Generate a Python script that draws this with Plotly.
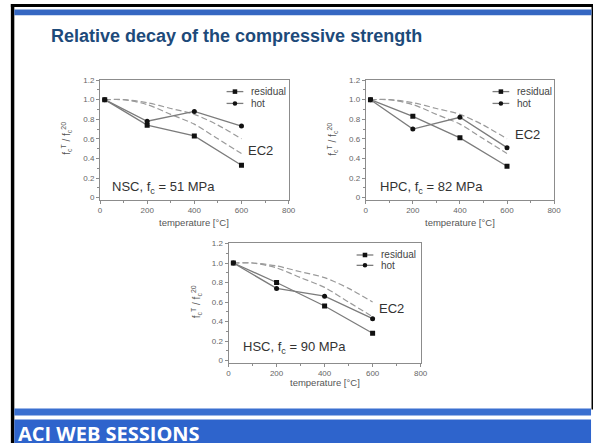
import plotly.graph_objects as go

W, H = 600, 446

# Measured relative compressive strength f_c^T / f_c^20
temperature = [20, 200, 400, 600]
nsc_residual = [1.0, 0.74, 0.63, 0.33]
nsc_hot = [1.0, 0.78, 0.88, 0.73]
hpc_residual = [1.0, 0.83, 0.61, 0.32]
hpc_hot = [1.0, 0.70, 0.82, 0.51]
hsc_residual = [1.0, 0.80, 0.56, 0.28]
hsc_hot = [1.0, 0.74, 0.66, 0.43]

# Eurocode 2 reduction curves (calcareous / siliceous aggregate)
ec2_temperature = [20, 100, 200, 300, 400, 500, 600]
ec2_calcareous = [1.0, 1.0, 0.97, 0.91, 0.85, 0.74, 0.60]
ec2_siliceous = [1.0, 1.0, 0.95, 0.85, 0.75, 0.60, 0.45]

x_ticks = [0, 200, 400, 600, 800]
y_ticks = [0, 0.2, 0.4, 0.6, 0.8, 1.0, 1.2]
y_tick_text = ["0", "0.2", "0.4", "0.6", "0.8", "1.0", "1.2"]

panel_labels = ["NSC, f<sub>c</sub> = 51 MPa", "HPC, f<sub>c</sub> = 82 MPa", "HSC, f<sub>c</sub> = 90 MPa"]
series_names = ["residual", "hot"]

slide_title = "Relative decay of the compressive strength"
banner_text = "ACI WEB SESSIONS"


def fx(px):
    return px / W


def fy(py):
    return 1 - py / H


Y_MIN, Y_MAX = -0.02, 1.2

# pixel frames of each panel: (x left, x right, y pixel of 1.2, y pixel of 0)
frames = [
    (99.5, 291.0, 77.3, 196.7),
    (369.3, 560.5, 77.3, 196.7),
    (230.0, 425.0, 243.3, 362.3),
]

panels = [
    (nsc_residual, nsc_hot),
    (hpc_residual, hpc_hot),
    (hsc_residual, hsc_hot),
]

LINE_GREY = "#7c7c7c"
AXIS_GREY = "#8c8c8c"
TEXT_GREY = "#444444"
FONT = "Arial, Liberation Sans, sans-serif"

fig = go.Figure()
layout = dict(
    width=W, height=H,
    margin=dict(l=0, r=0, t=0, b=0),
    paper_bgcolor="white",
    plot_bgcolor="rgba(0,0,0,0)",
    showlegend=False,
    font=dict(family=FONT),
)

for i, ((res, hot), (xl, xr, ytop, y0)) in enumerate(zip(panels, frames)):
    n = "" if i == 0 else str(i + 1)
    xa, ya = "x" + n, "y" + n
    per_unit = (y0 - ytop) / Y_MAX
    ybottom = y0 - Y_MIN * per_unit

    for ec2 in (ec2_calcareous, ec2_siliceous):
        fig.add_trace(go.Scatter(
            x=ec2_temperature, y=ec2, mode="lines",
            line=dict(color="#9a9a9a", width=1.2, dash="6px,3px", shape="spline", smoothing=0.8),
            xaxis=xa, yaxis=ya, hoverinfo="skip"))

    fig.add_trace(go.Scatter(
        x=temperature, y=res, mode="lines+markers", name=series_names[0],
        line=dict(color=LINE_GREY, width=1.3),
        marker=dict(symbol="square", size=5, color="#111111"),
        xaxis=xa, yaxis=ya))
    fig.add_trace(go.Scatter(
        x=temperature, y=hot, mode="lines+markers", name=series_names[1],
        line=dict(color=LINE_GREY, width=1.3),
        marker=dict(symbol="circle", size=5, color="#111111"),
        xaxis=xa, yaxis=ya))

    common = dict(
        showline=True, linecolor=AXIS_GREY, linewidth=1, mirror=True,
        ticks="outside", ticklen=3, tickwidth=1, tickcolor=AXIS_GREY,
        showgrid=False, zeroline=False, fixedrange=True,
        tickfont=dict(family=FONT, size=8, color="#666666"),
    )
    layout["xaxis" + n] = dict(
        common, domain=[fx(xl), fx(xr)], range=[0, 800], anchor=ya,
        tickmode="array", tickvals=x_ticks, ticktext=[str(v) for v in x_ticks],
        minor=dict(ticks="outside", ticklen=2, tickcolor=AXIS_GREY, tickmode="linear", tick0=0, dtick=100),
    )
    layout["yaxis" + n] = dict(
        common, domain=[fy(ybottom), fy(ytop)], range=[Y_MIN, Y_MAX], anchor=xa,
        tickmode="array", tickvals=y_ticks, ticktext=y_tick_text,
        minor=dict(ticks="outside", ticklen=2, tickcolor=AXIS_GREY, tickmode="linear", tick0=0, dtick=0.1),
    )

layout_shapes = []
annotations = []


def rect(x0, y0, x1, y1, color):
    layout_shapes.append(dict(type="rect", xref="paper", yref="paper",
                              x0=fx(x0), x1=fx(x1), y0=fy(y1), y1=fy(y0),
                              fillcolor=color, line=dict(width=0), layer="below"))


# slide frame and blue bands
rect(9, 0, 12.5, 446, "#000000")
rect(9, 0, 600, 3, "#000000")
rect(598.5, 0, 600, 412, "#000000")
rect(12.5, 5.5, 598.5, 11.5, "#3567c2")
rect(12.5, 411, 598, 418, "#3a6fd0")
rect(12.5, 422, 598, 446, "#2e64cc")

annotations.append(dict(text="<b>" + slide_title + "</b>", xref="paper", yref="paper",
                        x=fx(48), y=fy(33), xanchor="left", yanchor="middle", showarrow=False,
                        font=dict(family=FONT, size=18, color="#1d4a7a")))
annotations.append(dict(text="<b>" + banner_text + "</b>", xref="paper", yref="paper",
                        x=fx(14), y=fy(436), xanchor="left", yanchor="middle", showarrow=False,
                        font=dict(family="Open Sans, sans-serif", size=20, color="white")))

# per-panel text: legend, label, EC2 tag, axis titles (pixel positions)
legend_pos = [(228, 89, 12), (498, 89, 12), (360, 255, 10.5)]
label_pos = [(110, 186), (382, 186), (243, 349)]
ec2_pos = [(248, 149), (519, 133), (381, 309)]
ytitle_pos = [(66, 137), (336, 137), (197, 303)]
xtitle_pos = [(195, 222), (465, 222), (327.5, 385)]

for i in range(3):
    lx, ly, step = legend_pos[i]
    for k, (name, sym) in enumerate(zip(series_names, ["square", "circle"])):
        yy = ly + k * step
        layout_shapes.append(dict(type="line", xref="paper", yref="paper",
                                  x0=fx(lx), x1=fx(lx + 17), y0=fy(yy), y1=fy(yy),
                                  line=dict(color=LINE_GREY, width=1.3)))
        cx = lx + 8.5
        r = 2.3
        layout_shapes.append(dict(type="rect" if sym == "square" else "circle",
                                  xref="paper", yref="paper",
                                  x0=fx(cx - r), x1=fx(cx + r), y0=fy(yy + r), y1=fy(yy - r),
                                  fillcolor="#111111", line=dict(width=0)))
        annotations.append(dict(text=name, xref="paper", yref="paper",
                                x=fx(lx + 23), y=fy(yy), xanchor="left", yanchor="middle",
                                showarrow=False, font=dict(family=FONT, size=10, color=TEXT_GREY)))
    px_, py_ = label_pos[i]
    annotations.append(dict(text=panel_labels[i], xref="paper", yref="paper",
                            x=fx(px_), y=fy(py_), xanchor="left", yanchor="middle",
                            showarrow=False, font=dict(family=FONT, size=13, color="#333333")))
    ex, ey = ec2_pos[i]
    annotations.append(dict(text="EC2", xref="paper", yref="paper",
                            x=fx(ex), y=fy(ey), xanchor="left", yanchor="middle",
                            showarrow=False, font=dict(family=FONT, size=13, color="#333333")))
    tx, ty = ytitle_pos[i]
    annotations.append(dict(text="f<sub>c</sub><sup>T</sup> / f<sub>c</sub><sup>20</sup>",
                            xref="paper", yref="paper", x=fx(tx), y=fy(ty),
                            xanchor="center", yanchor="middle", textangle=-90,
                            showarrow=False, font=dict(family=FONT, size=10, color="#555555")))
    tx, ty = xtitle_pos[i]
    annotations.append(dict(text="temperature [°C]", xref="paper", yref="paper",
                            x=fx(tx), y=fy(ty), xanchor="center", yanchor="middle",
                            showarrow=False, font=dict(family=FONT, size=9.5, color="#555555")))

layout["shapes"] = layout_shapes
layout["annotations"] = annotations
fig.update_layout(**layout)
fig.write_html("out.html")
